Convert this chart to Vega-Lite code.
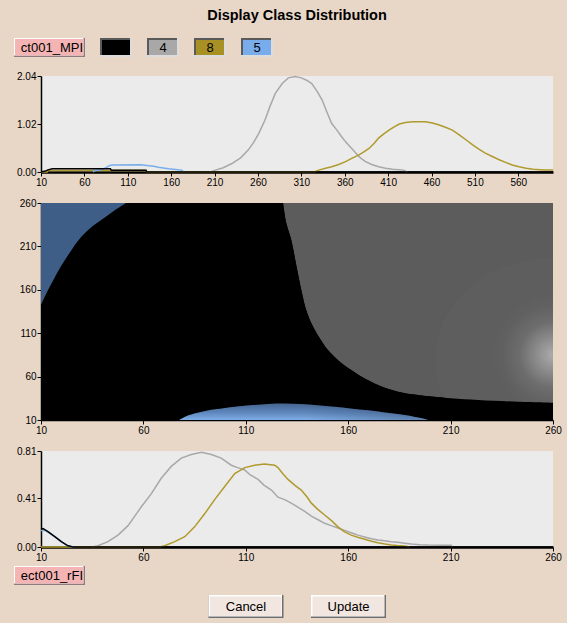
{
 "$schema": "https://vega.github.io/schema/vega-lite/v6.json",
 "background": "#e8d7c7",
 "padding": {"left": 14, "top": 7, "right": 5, "bottom": 5},
 "title": {"text": "Display Class Distribution", "font": "Liberation Sans", "fontSize": 14.5, "fontWeight": "bold", "color": "#000000", "anchor": "middle", "frame": "group", "offset": 3},
 "spacing": 31,
 "bounds": "flush",
 "resolve": {"scale": {"x": "independent", "y": "independent", "color": "independent", "fill": "independent"}},
 "datasets": {
  "legendItems": [
   {"item": "ct001_MPI", "row": "r"}, {"item": "0", "row": "r"}, {"item": "4", "row": "r"}, {"item": "8", "row": "r"}, {"item": "5", "row": "r"}
  ],
  "footerItems": [
   {"item": "ect001_rFI", "kind": "label"}, {"item": "Cancel", "kind": "button"}, {"item": "Update", "kind": "button"}
  ],
  "topHist": [
   {"cls":"4","x":205,"v":0},{"cls":"4","x":211,"v":0.04},{"cls":"4","x":220,"v":0.09},{"cls":"4","x":230,"v":0.18},{"cls":"4","x":240,"v":0.3},{"cls":"4","x":249,"v":0.47},{"cls":"4","x":255,"v":0.63},{"cls":"4","x":261,"v":0.82},{"cls":"4","x":268,"v":1.1},{"cls":"4","x":274,"v":1.4},{"cls":"4","x":280,"v":1.67},{"cls":"4","x":288,"v":1.88},{"cls":"4","x":295,"v":2.0},{"cls":"4","x":303,"v":2.03},{"cls":"4","x":310,"v":2.0},{"cls":"4","x":316,"v":1.95},{"cls":"4","x":322,"v":1.88},{"cls":"4","x":328,"v":1.72},{"cls":"4","x":334,"v":1.53},{"cls":"4","x":340,"v":1.25},{"cls":"4","x":345,"v":1.03},{"cls":"4","x":351,"v":0.89},{"cls":"4","x":356,"v":0.76},{"cls":"4","x":361,"v":0.64},{"cls":"4","x":367,"v":0.52},{"cls":"4","x":373,"v":0.4},{"cls":"4","x":378,"v":0.3},{"cls":"4","x":384,"v":0.22},{"cls":"4","x":391,"v":0.16},{"cls":"4","x":399,"v":0.11},{"cls":"4","x":407,"v":0.08},{"cls":"4","x":415,"v":0.06},{"cls":"4","x":428,"v":0.04},{"cls":"4","x":432,"v":0},
   {"cls":"8","x":10,"v":0},{"cls":"8","x":17,"v":0},{"cls":"8","x":18,"v":0.03},{"cls":"8","x":131,"v":0.03},{"cls":"8","x":132,"v":0},{"cls":"8","x":325,"v":0},{"cls":"8","x":330,"v":0.04},{"cls":"8","x":338,"v":0.08},{"cls":"8","x":345,"v":0.11},{"cls":"8","x":353,"v":0.16},{"cls":"8","x":361,"v":0.22},{"cls":"8","x":368,"v":0.29},{"cls":"8","x":376,"v":0.36},{"cls":"8","x":382,"v":0.43},{"cls":"8","x":388,"v":0.5},{"cls":"8","x":394,"v":0.61},{"cls":"8","x":399,"v":0.72},{"cls":"8","x":405,"v":0.81},{"cls":"8","x":411,"v":0.89},{"cls":"8","x":417,"v":0.96},{"cls":"8","x":423,"v":1.02},{"cls":"8","x":430,"v":1.05},{"cls":"8","x":438,"v":1.07},{"cls":"8","x":446,"v":1.07},{"cls":"8","x":453,"v":1.07},{"cls":"8","x":461,"v":1.04},{"cls":"8","x":469,"v":1.0},{"cls":"8","x":476,"v":0.95},{"cls":"8","x":484,"v":0.89},{"cls":"8","x":492,"v":0.79},{"cls":"8","x":500,"v":0.68},{"cls":"8","x":507,"v":0.58},{"cls":"8","x":515,"v":0.48},{"cls":"8","x":522,"v":0.4},{"cls":"8","x":530,"v":0.33},{"cls":"8","x":538,"v":0.26},{"cls":"8","x":546,"v":0.2},{"cls":"8","x":553,"v":0.15},{"cls":"8","x":561,"v":0.11},{"cls":"8","x":569,"v":0.08},{"cls":"8","x":577,"v":0.06},{"cls":"8","x":585,"v":0.05},{"cls":"8","x":592,"v":0.04},{"cls":"8","x":600,"v":0.04},
   {"cls":"5","x":70,"v":0},{"cls":"5","x":72,"v":0.03},{"cls":"5","x":80,"v":0.05},{"cls":"5","x":85,"v":0.09},{"cls":"5","x":87,"v":0.12},{"cls":"5","x":91,"v":0.15},{"cls":"5","x":125,"v":0.155},{"cls":"5","x":132,"v":0.14},{"cls":"5","x":140,"v":0.12},{"cls":"5","x":145,"v":0.1},{"cls":"5","x":151,"v":0.085},{"cls":"5","x":157,"v":0.07},{"cls":"5","x":165,"v":0.055},{"cls":"5","x":172,"v":0.04},{"cls":"5","x":175,"v":0},
   {"cls":"0","x":10,"v":0},{"cls":"0","x":15,"v":0.02},{"cls":"0","x":18,"v":0.045},{"cls":"0","x":23,"v":0.07},{"cls":"0","x":90,"v":0.07},{"cls":"0","x":91,"v":0.035},{"cls":"0","x":131,"v":0.035},{"cls":"0","x":132,"v":0},{"cls":"0","x":600,"v":0}
  ],
  "bottomHist": [
   {"cls":"4","x":35,"v":0},{"cls":"4","x":37.8,"v":0.01},{"cls":"4","x":42.7,"v":0.045},{"cls":"4","x":47.6,"v":0.1},{"cls":"4","x":52.5,"v":0.18},{"cls":"4","x":55.8,"v":0.26},{"cls":"4","x":59,"v":0.34},{"cls":"4","x":63.9,"v":0.45},{"cls":"4","x":68.7,"v":0.58},{"cls":"4","x":73.6,"v":0.68},{"cls":"4","x":78.5,"v":0.75},{"cls":"4","x":83.4,"v":0.78},{"cls":"4","x":88.3,"v":0.8},{"cls":"4","x":93.2,"v":0.78},{"cls":"4","x":98,"v":0.75},{"cls":"4","x":102.9,"v":0.69},{"cls":"4","x":106,"v":0.67},{"cls":"4","x":109.5,"v":0.65},{"cls":"4","x":112,"v":0.61},{"cls":"4","x":116,"v":0.57},{"cls":"4","x":119,"v":0.52},{"cls":"4","x":122.5,"v":0.48},{"cls":"4","x":125.7,"v":0.42},{"cls":"4","x":129,"v":0.4},{"cls":"4","x":132.2,"v":0.37},{"cls":"4","x":135,"v":0.34},{"cls":"4","x":138.8,"v":0.3},{"cls":"4","x":142,"v":0.26},{"cls":"4","x":145.3,"v":0.23},{"cls":"4","x":148.5,"v":0.2},{"cls":"4","x":151.7,"v":0.18},{"cls":"4","x":155,"v":0.16},{"cls":"4","x":158.3,"v":0.14},{"cls":"4","x":161.5,"v":0.12},{"cls":"4","x":164.8,"v":0.1},{"cls":"4","x":168,"v":0.085},{"cls":"4","x":171.3,"v":0.07},{"cls":"4","x":174.5,"v":0.06},{"cls":"4","x":177.8,"v":0.053},{"cls":"4","x":181,"v":0.045},{"cls":"4","x":184.3,"v":0.04},{"cls":"4","x":187.5,"v":0.032},{"cls":"4","x":190.8,"v":0.025},{"cls":"4","x":195,"v":0.02},{"cls":"4","x":199,"v":0.017},{"cls":"4","x":205,"v":0.015},{"cls":"4","x":210.3,"v":0.014},{"cls":"4","x":211,"v":0},
   {"cls":"8","x":10,"v":0},{"cls":"8","x":68,"v":0},{"cls":"8","x":70.4,"v":0.01},{"cls":"8","x":75.3,"v":0.045},{"cls":"8","x":80.2,"v":0.087},{"cls":"8","x":85,"v":0.17},{"cls":"8","x":89.9,"v":0.28},{"cls":"8","x":94.8,"v":0.4},{"cls":"8","x":99.7,"v":0.51},{"cls":"8","x":104.6,"v":0.62},{"cls":"8","x":109.5,"v":0.67},{"cls":"8","x":114.3,"v":0.69},{"cls":"8","x":119.2,"v":0.7},{"cls":"8","x":124.1,"v":0.69},{"cls":"8","x":125.7,"v":0.67},{"cls":"8","x":128,"v":0.62},{"cls":"8","x":130.6,"v":0.57},{"cls":"8","x":134,"v":0.52},{"cls":"8","x":137.1,"v":0.48},{"cls":"8","x":140,"v":0.42},{"cls":"8","x":142,"v":0.37},{"cls":"8","x":145,"v":0.32},{"cls":"8","x":148.5,"v":0.27},{"cls":"8","x":152,"v":0.22},{"cls":"8","x":155,"v":0.17},{"cls":"8","x":158,"v":0.13},{"cls":"8","x":161.5,"v":0.1},{"cls":"8","x":165,"v":0.08},{"cls":"8","x":168.1,"v":0.065},{"cls":"8","x":171,"v":0.05},{"cls":"8","x":174.5,"v":0.036},{"cls":"8","x":178,"v":0.025},{"cls":"8","x":181,"v":0.017},{"cls":"8","x":184,"v":0.012},{"cls":"8","x":187.6,"v":0.008},{"cls":"8","x":190,"v":0},
   {"cls":"5","x":10,"v":0.14},{"cls":"5","x":12,"v":0.14},{"cls":"5","x":14,"v":0.12},{"cls":"5","x":17,"v":0.085},{"cls":"5","x":20,"v":0.045},{"cls":"5","x":23,"v":0.01},{"cls":"5","x":26,"v":0},
   {"cls":"0","x":10,"v":0.15},{"cls":"0","x":11,"v":0.155},{"cls":"0","x":13.4,"v":0.13},{"cls":"0","x":16.7,"v":0.087},{"cls":"0","x":19.9,"v":0.045},{"cls":"0","x":23.2,"v":0.01},{"cls":"0","x":25.6,"v":0},{"cls":"0","x":260,"v":0}
  ],
  "blueTL": [
   {"y":142.5,"x":10},{"y":152,"x":11.8},{"y":160,"x":13.5},{"y":167.5,"x":15.2},{"y":180,"x":18},{"y":194,"x":21.6},{"y":208,"x":25.5},{"y":221,"x":29.7},{"y":231,"x":34},{"y":240.4,"x":39.4},{"y":250,"x":45},{"y":260,"x":51.5}
  ],
  "grayRegion": [
   {"x":128.2,"y":260},{"x":129.8,"y":236.6},{"x":132.2,"y":217.4},{"x":134.7,"y":187.6},{"x":137.1,"y":159.8},{"x":139.5,"y":136.7},{"x":142,"y":121.4},{"x":146.1,"y":104.1},{"x":150.1,"y":90.6},{"x":155.9,"y":77.2},{"x":161.5,"y":67.6},{"x":166.4,"y":60},{"x":174.5,"y":50.3},{"x":184.3,"y":42.6},{"x":194.1,"y":38.8},{"x":210,"y":35},{"x":223.4,"y":33},{"x":240,"y":31.3},{"x":260,"y":29.9}
  ],
  "blob": [
   {"part":"halo","x":260,"y":80},{"part":"core","x":260,"y":85}
  ],
  "blueBottom": [
   {"x":77.5,"y":10},{"x":79,"y":12},{"x":82,"y":15.5},{"x":88,"y":19.3},{"x":95,"y":22.3},{"x":104.6,"y":25.3},{"x":112,"y":27},{"x":120.8,"y":28.5},{"x":129,"y":29},{"x":137,"y":28.4},{"x":145,"y":27},{"x":153.4,"y":25.2},{"x":161,"y":23.3},{"x":169.7,"y":21.1},{"x":178,"y":18.7},{"x":185.9,"y":16.2},{"x":192,"y":13.8},{"x":196,"y":12},{"x":199,"y":10}
  ]
 },
 "vconcat": [
  {
   "width": 512, "height": 19,
   "data": {"name": "legendItems"},
   "encoding": {
    "x": {"field": "item", "type": "nominal", "axis": null, "scale": {"type": "point", "domain": ["ct001_MPI", "0", "4", "8", "5"], "range": [28, 216], "padding": 0}},
    "y": {"field": "row", "type": "nominal", "axis": null}
   },
   "layer": [
    {"transform": [{"filter": "datum.item === 'ct001_MPI'"}], "mark": {"type": "rect", "width": 71, "height": 19, "xOffset": -19.5, "yOffset": 12, "color": "#8c7c7c"}},
    {"transform": [{"filter": "datum.item === 'ct001_MPI'"}], "mark": {"type": "rect", "width": 69.5, "height": 17.5, "xOffset": -20.25, "yOffset": 11.25, "color": "#ffffff"}},
    {"transform": [{"filter": "datum.item === 'ct001_MPI'"}], "mark": {"type": "rect", "width": 68.5, "height": 16.5, "xOffset": -19.75, "yOffset": 11.75, "color": "#f4b4b4"}},
    {"transform": [{"filter": "datum.item === 'ct001_MPI'"}], "mark": {"type": "text", "align": "right", "xOffset": 14, "yOffset": 12.5, "font": "Liberation Sans", "fontSize": 13, "color": "#000000"}, "encoding": {"text": {"field": "item"}}},
    {"transform": [{"filter": "datum.item !== 'ct001_MPI'"}], "mark": {"type": "rect", "width": 32, "height": 19, "yOffset": 12, "color": "#dcdcdc"}},
    {"transform": [{"filter": "datum.item !== 'ct001_MPI'"}], "mark": {"type": "rect", "width": 30, "height": 17, "xOffset": -1, "yOffset": 11, "color": "#5a5a5a"}},
    {"transform": [{"filter": "datum.item !== 'ct001_MPI'"}], "mark": {"type": "rect", "width": 28, "height": 15, "yOffset": 12}, "encoding": {"fill": {"field": "item", "type": "nominal", "legend": null, "scale": {"domain": ["0", "4", "8", "5"], "range": ["#000000", "#a8a8a8", "#a89024", "#78acea"]}}}},
    {"transform": [{"filter": "datum.item !== 'ct001_MPI'"}], "mark": {"type": "text", "yOffset": 12.5, "font": "Liberation Sans", "fontSize": 13, "color": "#000000"}, "encoding": {"text": {"field": "item"}}}
   ]
  },
  {
   "width": 512, "height": 96,
   "data": {"name": "topHist"},
   "view": {"fill": "#ebebeb", "stroke": null},
   "mark": {"type": "line", "strokeWidth": 1.5},
   "encoding": {
    "x": {"field": "x", "type": "quantitative", "scale": {"domain": [10, 600], "nice": false, "zero": false}, "axis": {"title": null, "values": [10, 60, 110, 160, 210, 260, 310, 360, 410, 460, 510, 560], "domainWidth": 2.5}},
    "y": {"field": "v", "type": "quantitative", "scale": {"domain": [0, 2.04], "nice": false}, "axis": {"title": null, "values": [0, 1.02, 2.04], "format": ".2f"}},
    "color": {"field": "cls", "type": "nominal", "legend": null, "scale": {"domain": ["0", "4", "8", "5"], "range": ["#000000", "#a8a8a8", "#b09a2c", "#78aeea"]}}
   }
  },
  {
   "width": 512, "height": 217,
   "view": {"fill": "#000000", "stroke": null},
   "encoding": {
    "x": {"field": "x", "type": "quantitative", "scale": {"domain": [10, 260], "nice": false, "zero": false}, "axis": {"title": null, "values": [10, 60, 110, 160, 210, 260]}},
    "y": {"field": "y", "type": "quantitative", "scale": {"domain": [10, 260], "nice": false, "zero": false}, "axis": {"title": null, "values": [10, 60, 110, 160, 210, 260]}}
   },
   "layer": [
    {"data": {"name": "blueTL"}, "mark": {"type": "area", "orient": "horizontal", "color": "#3e5e88", "clip": true, "interpolate": "catmull-rom"}, "encoding": {"x2": {"datum": 10}}},
    {"data": {"name": "grayRegion"}, "mark": {"type": "area", "orient": "vertical", "color": "#5c5c5c", "clip": true, "interpolate": "catmull-rom"}, "encoding": {"y2": {"datum": 260}}},
    {"data": {"name": "blob"}, "transform": [{"filter": "datum.part === 'halo'"}], "mark": {"type": "point", "shape": "M -1 0 A 1 0.86 0 1 0 1 0 A 1 0.86 0 1 0 -1 0 Z", "size": 55696, "filled": true, "color": "#5e5e5e", "opacity": 1, "strokeWidth": 0, "clip": true}},
    {"data": {"name": "blob"}, "transform": [{"filter": "datum.part === 'core'"}], "mark": {"type": "point", "shape": "circle", "size": 17671, "filled": true, "opacity": 1, "strokeWidth": 0, "clip": true, "fill": {"gradient": "radial", "x1": 0.5, "y1": 0.5, "r1": 0, "x2": 0.5, "y2": 0.5, "r2": 0.5, "stops": [{"offset": 0, "color": "#acacac"}, {"offset": 0.25, "color": "#8c8c8c"}, {"offset": 0.5, "color": "#6d6d6d"}, {"offset": 0.75, "color": "#616161"}, {"offset": 1, "color": "rgba(94,94,94,0)"}]}}},
    {"data": {"name": "grayRegion"}, "mark": {"type": "area", "orient": "vertical", "color": "#000000", "clip": true, "interpolate": "catmull-rom"}, "encoding": {"y2": {"datum": 10}}},
    {"data": {"name": "blueBottom"}, "mark": {"type": "area", "orient": "vertical", "clip": true, "interpolate": "catmull-rom", "color": {"gradient": "linear", "x1": 0, "y1": 1, "x2": 0, "y2": 0, "stops": [{"offset": 0, "color": "#7eaee6"}, {"offset": 0.45, "color": "#5f87bd"}, {"offset": 1, "color": "#44648f"}]}}, "encoding": {"y2": {"datum": 10}}},
    {"data": {"name": "blueBottom"}, "mark": {"type": "area", "orient": "vertical", "clip": true, "interpolate": "catmull-rom", "color": {"gradient": "linear", "x1": 0, "y1": 0, "x2": 1, "y2": 0, "stops": [{"offset": 0, "color": "rgba(20,30,50,0)"}, {"offset": 0.5, "color": "rgba(20,30,50,0)"}, {"offset": 1, "color": "rgba(20,30,50,0.3)"}]}}, "encoding": {"y2": {"datum": 10}}}
   ]
  },
  {
   "width": 512, "height": 96,
   "data": {"name": "bottomHist"},
   "view": {"fill": "#ebebeb", "stroke": null},
   "mark": {"type": "line", "strokeWidth": 1.5},
   "encoding": {
    "x": {"field": "x", "type": "quantitative", "scale": {"domain": [10, 260], "nice": false, "zero": false}, "axis": {"title": null, "values": [10, 60, 110, 160, 210, 260], "domainWidth": 2.5}},
    "y": {"field": "v", "type": "quantitative", "scale": {"domain": [0, 0.81], "nice": false}, "axis": {"title": null, "values": [0, 0.41, 0.81], "format": ".2f"}},
    "color": {"field": "cls", "type": "nominal", "legend": null, "scale": {"domain": ["0", "4", "8", "5"], "range": ["#000000", "#a8a8a8", "#b09a2c", "#78aeea"]}}
   }
  },
  {
   "width": 512, "height": 31,
   "data": {"name": "footerItems"},
   "encoding": {
    "x": {"field": "item", "type": "nominal", "axis": null, "scale": {"type": "point", "domain": ["ect001_rFI", "Cancel", "Update"], "range": [102.5, 307.5], "padding": 0}},
    "y": {"field": "kind", "type": "nominal", "axis": null, "scale": {"type": "point", "domain": ["label", "button"], "padding": 0}}
   },
   "layer": [
    {"transform": [{"filter": "datum.kind === 'label'"}], "mark": {"type": "rect", "width": 71, "height": 19, "xOffset": -94, "yOffset": -2.5, "color": "#8c7c7c"}},
    {"transform": [{"filter": "datum.kind === 'label'"}], "mark": {"type": "rect", "width": 69.5, "height": 17.5, "xOffset": -94.75, "yOffset": -3.25, "color": "#ffffff"}},
    {"transform": [{"filter": "datum.kind === 'label'"}], "mark": {"type": "rect", "width": 68.5, "height": 16.5, "xOffset": -94.25, "yOffset": -2.75, "color": "#f4b4b4"}},
    {"transform": [{"filter": "datum.kind === 'label'"}], "mark": {"type": "text", "align": "right", "xOffset": -60.5, "yOffset": -2, "font": "Liberation Sans", "fontSize": 13, "color": "#000000"}, "encoding": {"text": {"field": "item"}}},
    {"transform": [{"filter": "datum.kind === 'button'"}], "mark": {"type": "rect", "width": 75, "height": 23, "yOffset": -2.5, "color": "#6e6e6e"}},
    {"transform": [{"filter": "datum.kind === 'button'"}], "mark": {"type": "rect", "width": 73.5, "height": 21.5, "xOffset": -0.75, "yOffset": -3.25, "color": "#ffffff"}},
    {"transform": [{"filter": "datum.kind === 'button'"}], "mark": {"type": "rect", "width": 71.5, "height": 19.5, "xOffset": -0.25, "yOffset": -2.75, "color": "#f2e6e0"}},
    {"transform": [{"filter": "datum.kind === 'button'"}], "mark": {"type": "text", "yOffset": -2, "font": "Liberation Sans", "fontSize": 13, "color": "#000000"}, "encoding": {"text": {"field": "item"}}}
   ]
  }
 ],
 "config": {
  "view": {"stroke": null},
  "font": "Liberation Sans",
  "axis": {"labelFont": "Liberation Sans", "labelFontSize": 10, "labelColor": "#000000", "tickColor": "#000000", "domainColor": "#000000", "domainWidth": 1.5, "tickSize": 4, "tickWidth": 1, "grid": false, "labelOverlap": false, "labelFlush": false, "labelPadding": 1}
 }
}
